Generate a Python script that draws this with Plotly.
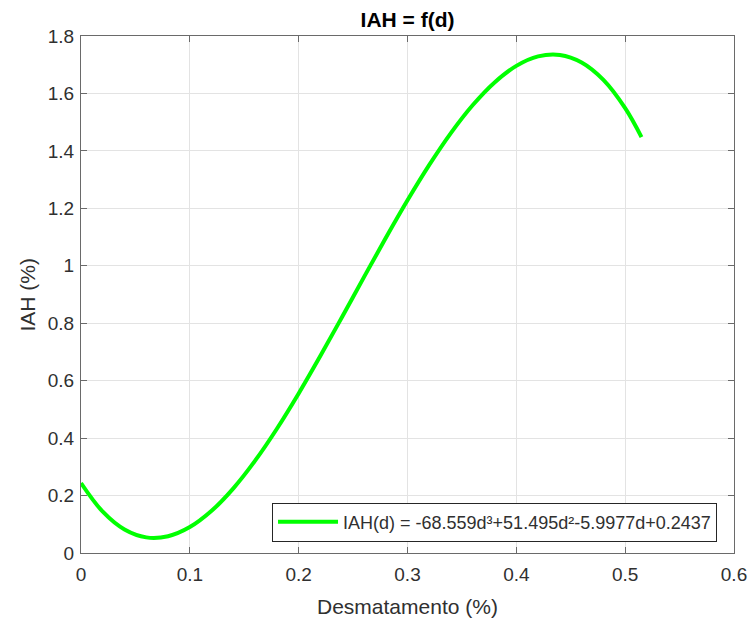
import plotly.graph_objects as go

# Values (Desmatamento, IAH)
desmatamento = [0.0, 0.02, 0.04, 0.06, 0.08, 0.10, 0.12, 0.14, 0.16, 0.18, 0.20,
                0.22, 0.24, 0.26, 0.28, 0.30, 0.32, 0.34, 0.36, 0.38, 0.40, 0.42,
                0.44, 0.46, 0.48, 0.50, 0.515]
iah = [0.2437, 0.1438, 0.0818, 0.0544, 0.0584, 0.0903, 0.1470, 0.2252, 0.3215,
       0.4327, 0.5555, 0.6865, 0.8226, 0.9604, 1.0965, 1.2278, 1.3510, 1.4627, 1.5596,
       1.6385, 1.6960, 1.7290, 1.7340, 1.7078, 1.6472, 1.5487, 1.4480]

legend_label = "IAH(d) = -68.559d³+51.495d²-5.9977d+0.2437"
title_text = "<b>IAH = f(d)</b>"
x_title = "Desmatamento (%)"
y_title = "IAH (%)"
x_ticks = [0, 0.1, 0.2, 0.3, 0.4, 0.5, 0.6]
x_ticktext = ["0", "0.1", "0.2", "0.3", "0.4", "0.5", "0.6"]
y_ticks = [0, 0.2, 0.4, 0.6, 0.8, 1.0, 1.2, 1.4, 1.6, 1.8]
y_ticktext = ["0", "0.2", "0.4", "0.6", "0.8", "1", "1.2", "1.4", "1.6", "1.8"]

font_family = "Liberation Sans, Arial, sans-serif"
text_color = "#303030"
axis_color = "#6a6a6a"
grid_color = "#e3e3e3"

W, H = 748, 618
L, R, T, B = 81, 14, 36, 65

fig = go.Figure()
fig.add_trace(go.Scatter(
    x=desmatamento, y=iah, mode="lines", name=legend_label,
    line=dict(color="#00ff00", width=4, shape="spline", smoothing=1.0),
    showlegend=True,
))

axis_common = dict(
    showline=True, linecolor=axis_color, linewidth=1, mirror="ticks",
    ticks="inside", ticklen=6, tickcolor=axis_color,
    showgrid=True, gridcolor=grid_color, gridwidth=1,
    zeroline=False, automargin=False,
    tickfont=dict(family=font_family, size=19, color=text_color),
)

fig.update_layout(
    width=W, height=H,
    margin=dict(l=L, r=R, t=T, b=B, autoexpand=False),
    paper_bgcolor="white", plot_bgcolor="white",
    title=dict(text=title_text, x=(L + W - R) / 2 / W, xanchor="center",
               y=1 - 20 / H, yanchor="middle",
               font=dict(family=font_family, size=21, color="#000000")),
    xaxis=dict(range=[0, 0.6], tickvals=x_ticks, ticktext=x_ticktext, ticklabelstandoff=4,
               **axis_common),
    yaxis=dict(range=[0, 1.8], tickvals=y_ticks, ticktext=y_ticktext, ticklabelstandoff=2,
               **axis_common),
    legend=dict(x=0.974, xanchor="right", y=0.022, yanchor="bottom",
                bgcolor="white", bordercolor="#262626", borderwidth=1,
                font=dict(family=font_family, size=18, color=text_color),
                itemwidth=60, tracegroupgap=0),
    showlegend=True,
    annotations=[
        dict(text=x_title, xref="paper", yref="paper",
             x=0.5, y=-(606 - (H - B)) / (H - T - B), xanchor="center", yanchor="middle",
             showarrow=False, font=dict(family=font_family, size=21, color=text_color)),
        dict(text=y_title, xref="paper", yref="paper", textangle=-90,
             x=-(L - 27) / (W - L - R), y=0.5, xanchor="center", yanchor="middle",
             showarrow=False, font=dict(family=font_family, size=21, color=text_color)),
    ],
)

fig.write_html("out.html", config={"displayModeBar": False},
               post_script="document.body.style.margin='0px';document.body.style.overflow='hidden';")
